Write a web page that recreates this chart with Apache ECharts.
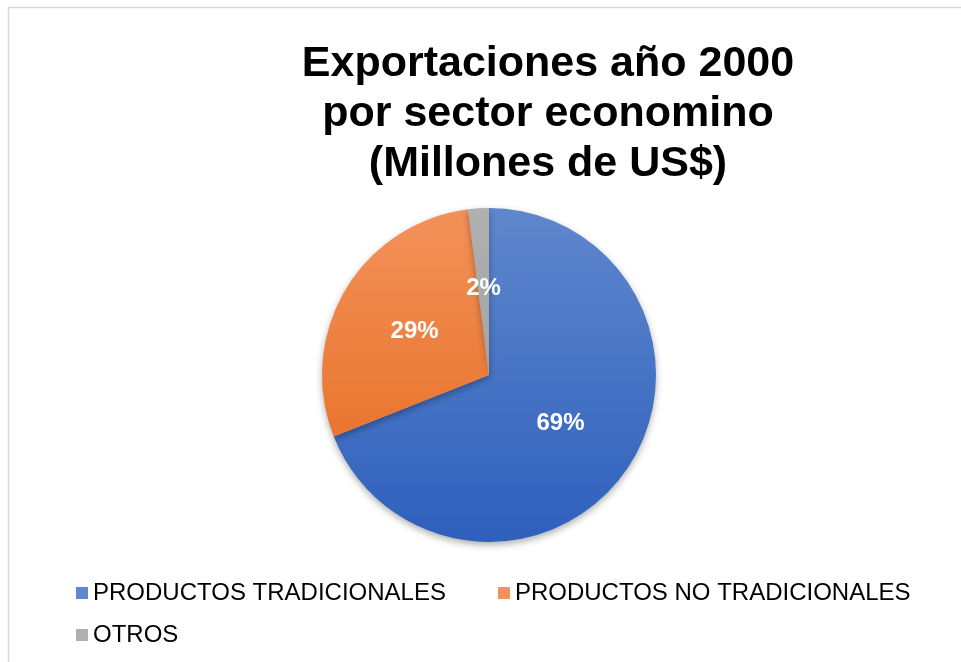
<!DOCTYPE html>
<html>
<head>
<meta charset="utf-8">
<script src="https://cdn.jsdelivr.net/npm/echarts@6/dist/echarts.min.js"></script>
<style>
  html, body { margin: 0; padding: 0; background: #fff; }
  #chart { width: 961px; height: 662px; }
</style>
</head>
<body>
<div id="chart"></div>
<script>
// Export shares by economic sector, year 2000 (percent of total)
const categories = ['PRODUCTOS TRADICIONALES', 'PRODUCTOS NO TRADICIONALES', 'OTROS'];
const shares = [69, 29, 2];
const titleLines = ['Exportaciones año 2000', 'por sector economino', '(Millones de US$)'];

const FONT = '"Liberation Sans", Arial, Helvetica, sans-serif';
const CX = 489, CY = 375, R = 167;

// vertical gradients spanning the pie's full height
function grad(top, bottom) {
  return new echarts.graphic.LinearGradient(0, CY - R, 0, CY + R, [
    { offset: 0, color: top },
    { offset: 1, color: bottom }
  ], true);
}
const sliceColors = [
  grad('#5f87cd', '#2e60bc'),
  grad('#f3915a', '#e5691a'),
  grad('#b0b0b0', '#9a9a9a')
];

const legendText = { fontFamily: FONT, fontSize: 24, color: '#000000' };

const chart = echarts.init(document.getElementById('chart'), null, { renderer: 'canvas' });

chart.setOption({
  backgroundColor: '#ffffff',
  animation: false,
  title: {
    text: titleLines.join('\n'),
    left: 543,
    textAlign: 'center',
    top: 34,
    textStyle: {
      fontFamily: FONT,
      fontWeight: 'bold',
      fontSize: 43,
      lineHeight: 50,
      color: '#000000'
    }
  },
  graphic: [{
    type: 'rect',
    silent: true,
    shape: { x: 8.5, y: 7.5, width: 1000, height: 700 },
    style: { fill: 'none', stroke: '#d9d9d9', lineWidth: 1.5 }
  }],
  legend: [{
    data: categories.slice(0, 2),
    left: 76,
    top: 581,
    padding: 0,
    orient: 'horizontal',
    icon: 'rect',
    itemWidth: 12,
    itemHeight: 12,
    itemGap: 52,
    selectedMode: false,
    textStyle: legendText
  }, {
    data: categories.slice(2),
    left: 76,
    top: 623,
    padding: 0,
    icon: 'rect',
    itemWidth: 12,
    itemHeight: 12,
    selectedMode: false,
    textStyle: legendText
  }],
  series: [{
    type: 'pie',
    center: [CX, CY],
    radius: [0, R],
    startAngle: 90,
    clockwise: true,
    avoidLabelOverlap: false,
    data: categories.map((name, i) => ({
      name: name,
      value: shares[i],
      itemStyle: { color: sliceColors[i] }
    })),
    itemStyle: {
      borderWidth: 0,
      shadowBlur: 7,
      shadowOffsetY: 3,
      shadowColor: 'rgba(0,0,0,0.32)'
    },
    label: {
      show: true,
      position: 'inside',
      formatter: p => Math.round(p.percent) + '%',
      fontFamily: FONT,
      fontWeight: 'bold',
      fontSize: 24,
      color: '#ffffff'
    },
    labelLine: { show: false },
    emphasis: { disabled: true }
  }]
});
</script>
</body>
</html>
